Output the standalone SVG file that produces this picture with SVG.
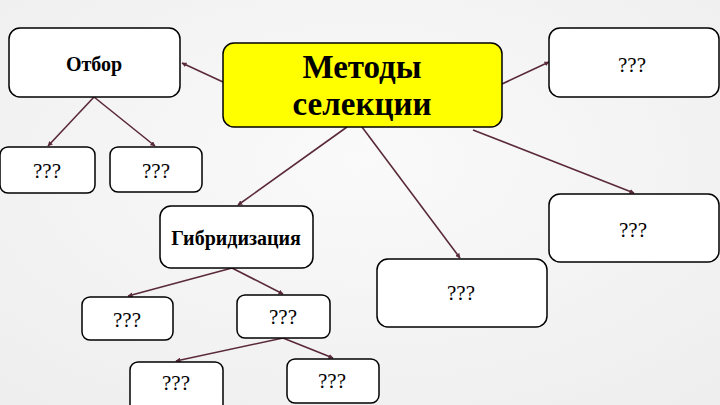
<svg xmlns="http://www.w3.org/2000/svg" width="720" height="405" viewBox="0 0 720 405">
<defs>
<radialGradient id="bg" cx="50%" cy="40%" r="75%">
<stop offset="0" stop-color="#fafafa"/>
<stop offset="1" stop-color="#eeeeee"/>
</radialGradient>
<marker id="ah" viewBox="0 0 10 10" refX="9" refY="5" markerWidth="5" markerHeight="5" orient="auto" markerUnits="userSpaceOnUse">
<path d="M0,0 L10,5 L0,10 z" fill="#5a2a38"/>
</marker>
</defs>
<style>
.box{fill:#ffffff;stroke:#000000;stroke-width:1.5}
.main{fill:#ffff00;stroke:#000000;stroke-width:1.5}
text{font-family:'Liberation Serif','DejaVu Serif','Times New Roman',serif;text-anchor:middle;fill:#000}
.q{font-size:21px}
.b{font-size:20px;font-weight:bold}
.m{font-size:33px;font-weight:bold}
.c{stroke:#5a2a38;stroke-width:1.6;fill:none;marker-end:url(#ah)}
</style>
<rect width="720" height="405" fill="url(#bg)"/>
<g id="connectors">
<line class="c" x1="223" y1="82" x2="182" y2="63"/>
<line class="c" x1="94" y1="97" x2="48" y2="146"/>
<line class="c" x1="94" y1="97" x2="155" y2="146"/>
<line class="c" x1="502" y1="84" x2="549" y2="62"/>
<line class="c" x1="473" y1="130" x2="634" y2="193"/>
<line class="c" x1="362" y1="127" x2="460" y2="258"/>
<line class="c" x1="347" y1="127" x2="238" y2="205"/>
<line class="c" x1="232" y1="268" x2="128" y2="296"/>
<line class="c" x1="232" y1="268" x2="283" y2="294"/>
<line class="c" x1="283" y1="338" x2="176" y2="361"/>
<line class="c" x1="283" y1="338" x2="333" y2="358"/>
</g>
<g id="main">
<rect class="main" x="223" y="43" width="279" height="84" rx="11"/>
<text class="m" x="362" y="78">Методы</text>
<text class="m" x="362" y="115">селекции</text>
</g>
<g id="otbor">
<rect class="box" x="9" y="28" width="171" height="69" rx="11"/>
<text class="b" x="94" y="71">Отбор</text>
</g>
<g id="otbor-q1">
<rect class="box" x="0" y="147" width="95" height="46" rx="8"/>
<text class="q" x="47" y="178">???</text>
</g>
<g id="otbor-q2">
<rect class="box" x="110" y="147" width="92" height="45" rx="8"/>
<text class="q" x="156" y="178">???</text>
</g>
<g id="top-right">
<rect class="box" x="549" y="28" width="170" height="69" rx="11"/>
<text class="q" x="632" y="72">???</text>
</g>
<g id="mid-right">
<rect class="box" x="549" y="194" width="170" height="68" rx="11"/>
<text class="q" x="633" y="237">???</text>
</g>
<g id="mid-bottom">
<rect class="box" x="377" y="259" width="170" height="68" rx="11"/>
<text class="q" x="461" y="300">???</text>
</g>
<g id="hybrid">
<rect class="box" x="160" y="206" width="153" height="62" rx="11"/>
<text class="b" x="236" y="245">Гибридизация</text>
</g>
<g id="hyb-q1">
<rect class="box" x="82" y="297" width="91" height="43" rx="8"/>
<text class="q" x="127" y="327">???</text>
</g>
<g id="hyb-q2">
<rect class="box" x="237" y="295" width="93" height="43" rx="8"/>
<text class="q" x="283" y="324">???</text>
</g>
<g id="hyb-q3">
<rect class="box" x="130" y="362" width="93" height="50" rx="8"/>
<text class="q" x="176" y="390">???</text>
</g>
<g id="hyb-q4">
<rect class="box" x="287" y="359" width="92" height="44" rx="8"/>
<text class="q" x="332" y="388">???</text>
</g>
</svg>
